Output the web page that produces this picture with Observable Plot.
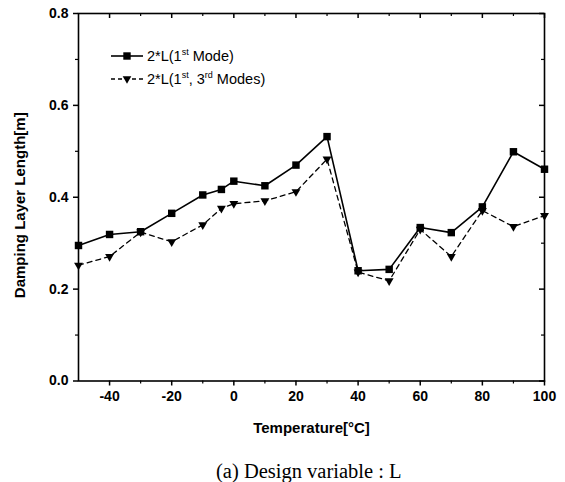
<!DOCTYPE html>
<html><head><meta charset="utf-8">
<script src="https://cdn.jsdelivr.net/npm/d3@7"></script>
<script src="https://cdn.jsdelivr.net/npm/@observablehq/plot@0.6"></script>
<style>
body{margin:0;background:#fff;}
#wrap{position:relative;width:565px;height:482px;overflow:hidden;font-family:"Liberation Sans",Arial,sans-serif;}
#legend{position:absolute;left:111px;top:44px;font-size:14.5px;color:#000;}
.row{display:flex;align-items:center;height:23px;white-space:nowrap;}
.row svg{margin-right:4px;display:block}
sup{font-size:9px;vertical-align:6px;line-height:0}
#caption{position:absolute;left:216px;top:460px;line-height:22px;white-space:nowrap;font-family:"Liberation Serif","DejaVu Serif",serif;font-size:20.5px;color:#000;}
</style></head>
<body><div id="wrap"><div id="chart"></div><div id="legend"></div><div id="caption">(a) Design variable : L</div></div>
<script>
// ---- data ----
const temps  = [-50,-40,-30,-20,-10,-4,0,10,20,30,40,50,60,70,80,90,100];
const mode1  = [0.295,0.319,0.325,0.365,0.405,0.417,0.435,0.425,0.470,0.532,0.240,0.243,0.334,0.323,0.379,0.499,0.461];
const mode13 = [0.252,0.271,0.324,0.303,0.340,0.376,0.386,0.392,0.412,0.483,0.237,0.218,0.330,0.271,0.371,0.336,0.360];
const xMajorTicks = [-40,-20,0,20,40,60,80,100];
const xMinorTicks = [-30,-10,10,30,50,70,90];
const yMajorTicks = [0,0.2,0.4,0.6,0.8];
const yMinorTicks = [0.1,0.3,0.5,0.7];
const seriesNames = ["2*L(1<sup>st</sup> Mode)","2*L(1<sup>st</sup>, 3<sup>rd</sup> Modes)"];
const xTitle = "Temperature[°C]";
const yTitle = "Damping Layer Length[m]";

// ---- layout ----
const W=565,H=448,mL=78,mR=21,mT=13,mB=67.5;
const frameH=H-mT-mB, frameW=W-mL-mR;
const font='"Liberation Sans",Arial,sans-serif';

const d1 = temps.map((t,i)=>({t, v:mode1[i]}));
const d2 = temps.map((t,i)=>({t, v:mode13[i]}));

const chart = Plot.plot({
  width:W,height:H,marginLeft:mL,marginRight:mR,marginTop:mT,marginBottom:mB,
  style:{fontFamily:font,fontSize:"14px",fontWeight:"bold",color:"#000",background:"#fff"},
  x:{domain:[-50,100]},
  y:{domain:[0,0.8]},
  marks:[
    Plot.axisX({anchor:"bottom",ticks:xMajorTicks,tickSize:5,tickPadding:5,tickFormat:d=>String(d),label:null,fontSize:14,fontWeight:"bold",strokeWidth:1.5}),
    Plot.axisX({anchor:"bottom",ticks:xMinorTicks,tickSize:3,tickFormat:()=>"",label:null,strokeWidth:1.2}),
    Plot.axisY({anchor:"left",ticks:yMajorTicks,tickSize:5,tickPadding:5,tickFormat:d3.format(".1f"),label:null,fontSize:14,fontWeight:"bold",strokeWidth:1.5}),
    Plot.axisY({anchor:"left",ticks:yMinorTicks,tickSize:3,tickFormat:()=>"",label:null,strokeWidth:1.2}),
    Plot.tickX(xMajorTicks,{x:d=>d,insetBottom:frameH-5,stroke:"#000",strokeWidth:1.5}),
    Plot.tickX(xMinorTicks,{x:d=>d,insetBottom:frameH-3,stroke:"#000",strokeWidth:1.2}),
    Plot.tickY(yMajorTicks,{y:d=>d,insetLeft:frameW-5,stroke:"#000",strokeWidth:1.5}),
    Plot.tickY(yMinorTicks,{y:d=>d,insetLeft:frameW-3,stroke:"#000",strokeWidth:1.2}),
    Plot.frame({stroke:"#000",strokeWidth:1.6}),
    Plot.line(d2,{x:"t",y:"v",stroke:"#000",strokeWidth:1.3,strokeDasharray:"5,4"}),
    Plot.line(d1,{x:"t",y:"v",stroke:"#000",strokeWidth:1.6}),
    Plot.dot(d2,{x:"t",y:"v",symbol:"triangle",r:3.3,fill:"#000",stroke:"none",rotate:180}),
    Plot.dot(d1,{x:"t",y:"v",symbol:"square",r:4.2,fill:"#000",stroke:"none"}),
    Plot.text([xTitle],{text:d=>d,frameAnchor:"bottom",dy:52,textAnchor:"middle",fontSize:15,fontWeight:"bold",fill:"#000"}),
    Plot.text([yTitle],{text:d=>d,frameAnchor:"left",textAnchor:"middle",dx:-58,dy:8,rotate:-90,fontSize:15,fontWeight:"bold",fill:"#000"})
  ]
});
document.getElementById("chart").appendChild(chart);

// legend
const leg = document.getElementById("legend");
const samples = [
  '<svg width="32" height="14"><line x1="0" y1="7" x2="32" y2="7" stroke="#000" stroke-width="1.6"/><rect x="12.3" y="3.3" width="7.4" height="7.4" fill="#000"/></svg>',
  '<svg width="32" height="14"><line x1="0" y1="7" x2="32" y2="7" stroke="#000" stroke-width="1.3" stroke-dasharray="4,3"/><path d="M11.7,4.3L20.3,4.3L16,11.7Z" fill="#000"/></svg>'
];
seriesNames.forEach((n,i)=>{
  const r=document.createElement("div"); r.className="row";
  r.innerHTML=samples[i]+'<span>'+n+'</span>';
  leg.appendChild(r);
});
</script>
</body></html>
